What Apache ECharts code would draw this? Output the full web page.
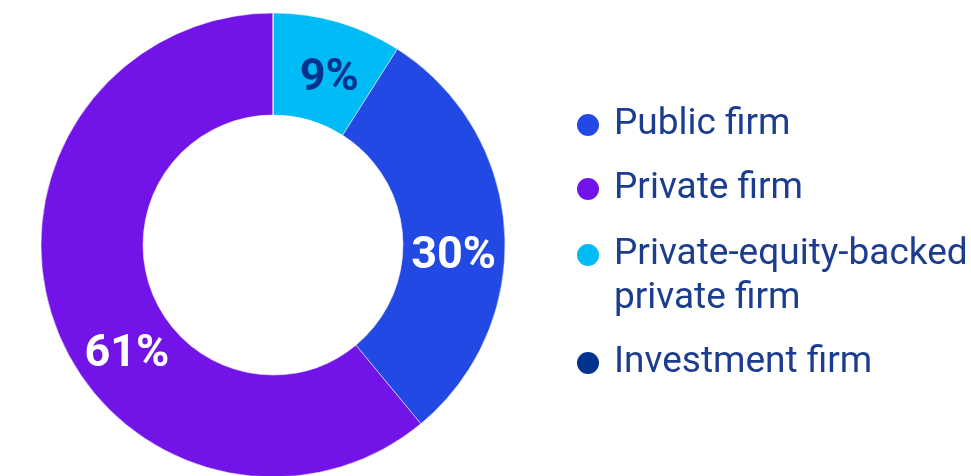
<!DOCTYPE html>
<html>
<head>
<meta charset="utf-8">
<script src="https://cdn.jsdelivr.net/npm/echarts@6/dist/echarts.min.js"></script>
<style>
html,body{margin:0;padding:0;background:#fff;}
#chart{width:971px;height:476px;}
</style>
</head>
<body>
<div id="chart"></div>
<script>
// Data (clockwise from 12 o'clock)
const sliceNames = ['Private-equity-backed private firm', 'Public firm', 'Private firm', 'Investment firm'];
const sliceValues = [9, 30, 61, 0];
const sliceLabels = ['9%', '30%', '61%', ''];
const legendOrder = ['Public firm', 'Private firm', 'Private-equity-backed private firm', 'Investment firm'];

const colors = {
  'Public firm': '#2249E3',
  'Private firm': '#7214E8',
  'Private-equity-backed private firm': '#00BBF5',
  'Investment firm': '#00338D'
};
const labelColors = ['#00338D', '#ffffff', '#ffffff', '#ffffff'];
const labelOffsets = [[5, 10], [-3, 23], [27, 47], [0, 0]];

const chart = echarts.init(document.getElementById('chart'), null, {renderer: 'canvas'});

const legendFont = {
  fontFamily: 'Roboto',
  fontSize: 37,
  color: '#1B3C8F',
  lineHeight: 44,
  padding: [0, 0, 0, 9]
};
const legendTops = [103, 167, 189, 341];
const legends = legendOrder.map((n, i) => ({
  data: [n],
  orient: 'vertical',
  left: 575,
  top: legendTops[i],
  padding: 0,
  icon: 'circle',
  itemWidth: 24,
  itemHeight: 24,
  selectedMode: false,
  textStyle: legendFont,
  formatter: function (name) {
    return name === 'Private-equity-backed private firm' ? ' \nPrivate-equity-backed\nprivate firm' : name;
  }
}));

chart.setOption({
  animation: false,
  color: sliceNames.map(n => colors[n]),
  legend: legends,
  series: [{
    type: 'pie',
    center: [273, 245],
    radius: [130, 232],
    startAngle: 90,
    clockwise: true,
    avoidLabelOverlap: false,
    minShowLabelAngle: 0,
    itemStyle: {borderColor: '#ffffff', borderWidth: 0.5},
    label: {
      show: true,
      position: 'inside',
      fontFamily: 'Roboto',
      fontWeight: 'bold',
      fontSize: 45
    },
    labelLine: {show: false},
    emphasis: {disabled: true},
    data: sliceNames.map((n, i) => ({
      name: n,
      value: sliceValues[i],
      itemStyle: {color: colors[n]},
      label: {
        show: sliceLabels[i] !== '',
        formatter: sliceLabels[i],
        color: labelColors[i],
        offset: labelOffsets[i]
      }
    }))
  }]
});
</script>
</body>
</html>
